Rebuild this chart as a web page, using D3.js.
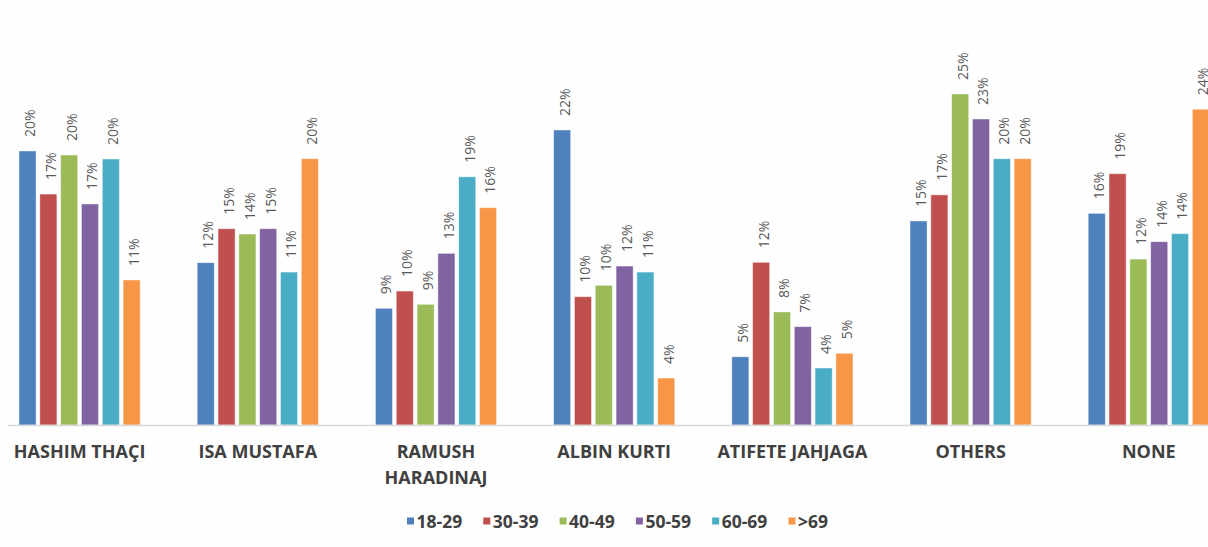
<!DOCTYPE html>
<html>
<head>
<meta charset="utf-8">
<script src="https://cdn.jsdelivr.net/npm/d3@7"></script>
<style>
  html, body { margin: 0; padding: 0; background: #fefefe; }
  svg { display: block; }
</style>
</head>
<body>
<svg id="chart" width="1208" height="547"></svg>
<script>
// Candidate preference by age group (percent of respondents)
const categories = ["HASHIM THAÇI", "ISA MUSTAFA", "RAMUSH HARADINAJ", "ALBIN KURTI", "ATIFETE JAHJAGA", "OTHERS", "NONE"];
const ageGroups = ["18-29", "30-39", "40-49", "50-59", "60-69", ">69"];

const age18to29 = [20.48, 12.13, 8.72, 22.05, 5.10, 15.25, 15.82];
const age30to39 = [17.26, 14.67, 10.01, 9.59, 12.16, 17.20, 18.78];
const age40to49 = [20.18, 14.27, 9.02, 10.44, 8.45, 24.74, 12.40];
const age50to59 = [16.52, 14.67, 12.83, 11.88, 7.35, 22.87, 13.70];
const age60to69 = [19.88, 11.43, 18.55, 11.43, 4.26, 19.90, 14.30];
const age70plus = [10.84, 19.90, 16.24, 3.51, 5.36, 19.90, 23.60];

const seriesValues = [age18to29, age30to39, age40to49, age50to59, age60to69, age70plus];
const colors = ["#4F81BD", "#C0504D", "#9BBB59", "#8064A2", "#4BACC6", "#F79646"];

const svg = d3.select("#chart");
const baseline = 425;

const x0 = d3.scaleBand()
  .domain(categories)
  .range([-9.5, 1237.9])
  .paddingInner(0.32)
  .paddingOuter(0.16);

const x1 = d3.scaleBand()
  .domain(ageGroups)
  .range([0, x0.bandwidth()])
  .paddingInner(0.18);

const y = d3.scaleLinear()
  .domain([0, 25])
  .range([baseline, baseline - 25 * 13.38]);

const color = d3.scaleOrdinal().domain(ageGroups).range(colors);
const fmt = v => d3.format(".0f")(v) + "%";

// Rows: one per (category, age group)
const rows = [];
categories.forEach((c, ci) => {
  ageGroups.forEach((g, gi) => {
    rows.push({ category: c, group: g, value: seriesValues[gi][ci] });
  });
});

// Bars
svg.append("g")
  .selectAll("rect")
  .data(rows)
  .join("rect")
  .attr("x", d => x0(d.category) + x1(d.group))
  .attr("y", d => y(d.value))
  .attr("width", x1.bandwidth())
  .attr("height", d => baseline - y(d.value))
  .attr("fill", d => color(d.group))
  .attr("stroke", "#ffffff")
  .attr("stroke-opacity", 0.55)
  .attr("stroke-width", 0.8);

// Value labels, rotated above each bar
svg.append("g")
  .selectAll("text")
  .data(rows)
  .join("text")
  .attr("transform", d => {
    const cx = x0(d.category) + x1(d.group) + x1.bandwidth() / 2 + 2.5;
    return `translate(${cx},${y(d.value) - 14}) rotate(-90)`;
  })
  .attr("dy", "0.35em")
  .attr("text-anchor", "start")
  .attr("font-family", "'Open Sans', sans-serif")
  .attr("font-size", 14)
  .attr("fill", "#595959")
  .text(d => fmt(d.value));

// Category axis line
svg.append("line")
  .attr("x1", 8)
  .attr("x2", 1208)
  .attr("y1", baseline + 0.5)
  .attr("y2", baseline + 0.5)
  .attr("stroke", "#d9d9d9")
  .attr("stroke-width", 1.5);

// Category labels (long two-word names wrap onto two lines)
const wrapLines = name => name === "RAMUSH HARADINAJ" ? ["RAMUSH", "HARADINAJ"] : [name];
const catLabels = svg.append("g")
  .selectAll("text")
  .data(categories)
  .join("text")
  .attr("x", d => x0(d) + x0.bandwidth() / 2)
  .attr("y", 458)
  .attr("text-anchor", "middle")
  .attr("font-family", "'Open Sans', sans-serif")
  .attr("font-weight", 700)
  .attr("font-size", 18)
  .attr("fill", "#404040");
catLabels.each(function (d) {
  const t = d3.select(this);
  wrapLines(d).forEach((line, i) => {
    t.append("tspan")
      .attr("x", x0(d) + x0.bandwidth() / 2)
      .attr("dy", i === 0 ? 0 : 25.5)
      .text(line);
  });
});

// Legend below the chart, spread between a fixed left and right edge
const legendLeft = 407, legendRight = 828;
const legend = svg.append("g");
const items = legend.selectAll("g")
  .data(ageGroups)
  .join("g");
items.append("rect")
  .attr("y", 517.5)
  .attr("width", 7)
  .attr("height", 7)
  .attr("fill", d => color(d));
items.append("text")
  .attr("x", 9.5)
  .attr("y", 527.5)
  .attr("font-family", "'Open Sans', sans-serif")
  .attr("font-weight", 700)
  .attr("font-size", 17.5)
  .attr("fill", "#404040")
  .text(d => d);
const widths = [];
items.each(function () {
  widths.push(9.5 + d3.select(this).select("text").node().getComputedTextLength());
});
const gap = (legendRight - legendLeft - d3.sum(widths)) / (ageGroups.length - 1);
let cursor = legendLeft;
items.each(function (d, i) {
  d3.select(this).attr("transform", `translate(${cursor},0)`);
  cursor += widths[i] + gap;
});
</script>
</body>
</html>
